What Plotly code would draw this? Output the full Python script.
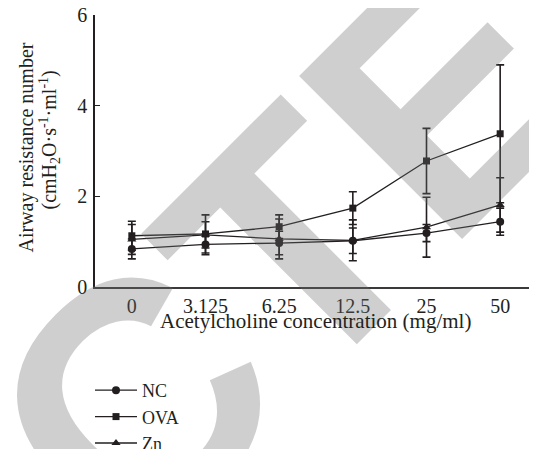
import plotly.graph_objects as go

categories = ["0", "3.125", "6.25", "12.5", "25", "50"]
nc = [0.84, 0.94, 0.97, 1.02, 1.19, 1.44]
nc_err = [0.22, 0.23, 0.26, 0.28, 0.19, 0.30]
ova = [1.13, 1.17, 1.33, 1.74, 2.78, 3.38]
ova_err = [0.32, 0.42, 0.26, 0.36, 0.72, 1.52]
zn = [1.05, 1.15, 1.06, 1.03, 1.32, 1.81]
zn_err = [0.33, 0.29, 0.44, 0.45, 0.66, 0.60]
y_ticks = [0, 2, 4, 6]

# the page body has an 8 px margin, so the figure is shifted by OFF
OFF = 8
W, H = 537 - OFF, 449 - OFF
L, R, T, B = 95 - OFF, 0, 15 - OFF, 162
PW, PH = W - L - R, H - T - B
INK = "#231f20"
SERIF = "Liberation Serif"


def px_to_paper(px, py):
    """page pixel -> paper coords"""
    return (px - OFF - L) / PW, (H - B - (py - OFF)) / PH


fig = go.Figure()


def add(name, y, err, symbol, size):
    fig.add_trace(go.Scatter(
        x=categories, y=y, name=name, mode="lines+markers",
        line=dict(color=INK, width=1.3),
        marker=dict(symbol=symbol, size=size, color=INK),
        error_y=dict(type="data", array=err, visible=True, color=INK,
                     thickness=1.6, width=4),
        cliponaxis=False,
    ))


add("NC", nc, nc_err, "circle", 8)
add("OVA", ova, ova_err, "square", 7)
add("Zn", zn, zn_err, "triangle-up", 8)

annotations = []
# watermark text
wx, wy = px_to_paper(-37, 574)
annotations.append(dict(
    text="<b>RETRACTED</b>", x=wx, y=wy, xref="paper", yref="paper",
    xanchor="center", yanchor="middle", showarrow=False, textangle=-45,
    font=dict(family="Liberation Sans", size=335, weight="bold",
              color="rgba(110,110,110,0.33)")))

x1, y1 = px_to_paper(26, 147.5)
x2, y2 = px_to_paper(49, 140.5)
annotations.append(dict(text="Airway resistance number", x=x1, y=y1,
                        xref="paper", yref="paper", xanchor="center",
                        yanchor="middle", showarrow=False, textangle=-90,
                        font=dict(family=SERIF, size=20, color=INK)))
annotations.append(dict(text="(cmH<sub>2</sub>O·s<sup>-1</sup>·ml<sup>-1</sup>)",
                        x=x2, y=y2, xref="paper", yref="paper",
                        xanchor="center", yanchor="middle", showarrow=False,
                        textangle=-90,
                        font=dict(family=SERIF, size=20, color=INK)))
x3, y3 = px_to_paper(315, 321)
annotations.append(dict(text="Acetylcholine concentration (mg/ml)", x=x3, y=y3,
                        xref="paper", yref="paper", xanchor="center",
                        yanchor="middle", showarrow=False,
                        font=dict(family=SERIF, size=21, color=INK)))

fig.update_layout(
    width=W, height=H,
    margin=dict(l=L, r=R, t=T, b=B, pad=0, autoexpand=False),
    paper_bgcolor="white", plot_bgcolor="rgba(0,0,0,0)",
    font=dict(family=SERIF, size=20, color=INK),
    showlegend=True,
    legend=dict(xref="container", yref="container",
                x=(90 - OFF) / W, y=1 - (372 - OFF) / H,
                xanchor="left", yanchor="top", bgcolor="rgba(0,0,0,0)",
                font=dict(family=SERIF, size=18, color=INK),
                itemwidth=42, tracegroupgap=0),
    xaxis=dict(type="category", range=[-0.5, 5.5], showline=True,
               linecolor="#3a3a3a", linewidth=1.8, ticks="", showgrid=False,
               zeroline=False, tickfont=dict(family=SERIF, size=20, color=INK)),
    yaxis=dict(range=[0, 6], tickvals=y_ticks, showline=True, linecolor=INK,
               linewidth=1.5, ticks="inside", ticklen=5, tickcolor=INK,
               showgrid=False, zeroline=False, ticklabeloverflow="allow",
               tickfont=dict(family=SERIF, size=20, color=INK),
               ticklabelstandoff=2),
    annotations=annotations,
)

fig.write_html("out.html")
